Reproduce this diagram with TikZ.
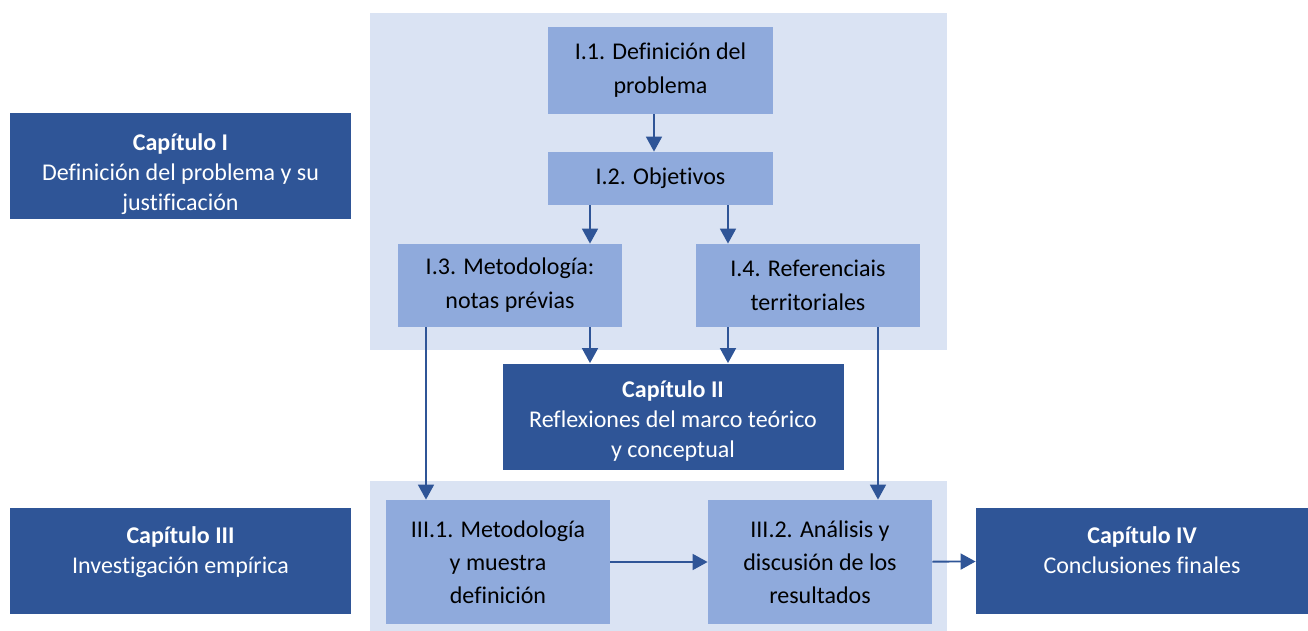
\documentclass[tikz,border=0pt]{standalone}
\usepackage{fontspec}
\setmainfont{Carlito}[Ligatures=NoCommon]
\usetikzlibrary{arrows.meta}

\definecolor{chapblue}{RGB}{47,85,151}
\definecolor{stepblue}{RGB}{143,170,220}
\definecolor{panelblue}{RGB}{218,227,243}

% extra room above the first line of a chapter box
\newcommand{\toproom}[1]{\rule{0pt}{\dimexpr 9pt+#1\relax}}

\begin{document}
\begin{tikzpicture}[
    x=0.5pt,y=-0.5pt,
    chapter/.style={rectangle,fill=chapblue,text=white,inner sep=0pt,align=center,
        font=\fontsize{12}{15}\selectfont,minimum width=170.5pt,minimum height=53pt},
    part/.style={rectangle,fill=stepblue,text=black,inner sep=0pt,align=center,
        font=\fontsize{12}{17}\selectfont,minimum width=112pt},
    panel/.style={fill=panelblue},
    arrow/.style={draw=chapblue,line width=0.9pt,-{Triangle[length=7.5pt,width=8pt]}}
]
    \useasboundingbox (0,0) rectangle (1308,631);

    % light panels behind chapters I and III
    \fill[panel] (370,13) rectangle (947,350);
    \fill[panel] (370,481) rectangle (947,631);

    % chapters
    \node[chapter] (capI) at (180.5,166.5) {\toproom{7pt}\textbf{Capítulo I}\\Definición del problema y su\\justificación};
    \node[chapter] (capII) at (673,416.5) {\toproom{4pt}\textbf{Capítulo II}\\Reflexiones del marco teórico\\y conceptual};
    \node[chapter] (capIII) at (180.5,561) {\toproom{3pt}\textbf{Capítulo III}\\Investigación empírica\\\mbox{}};
    \node[chapter,minimum width=166pt] (capIV) at (1142,561) {\toproom{3pt}\textbf{Capítulo IV}\\Conclusiones finales\\\mbox{}};

    % sections of chapter I
    \node[part,minimum width=112.5pt,minimum height=43.5pt] (i1) at (660.5,70.5) {I.1. Definición del\\problema};
    \node[part,minimum width=112.5pt,minimum height=26.5pt] (i2) at (660.5,178.5) {I.2. Objetivos};
    \node[part,minimum height=41.5pt] (i3) at (510,285.5) {I.3. Metodología:\\notas prévias};
    \node[part,minimum height=41.5pt] (i4) at (808,285.5) {I.4. Referenciais\\territoriales};

    % sections of chapter III
    \node[part,minimum height=62pt,font=\fontsize{12}{16.5}\selectfont] (iii1) at (498,562) {III.1. Metodología\\y muestra\\definición};
    \node[part,minimum height=62pt,font=\fontsize{12}{16.5}\selectfont] (iii2) at (820,562) {III.2. Análisis y\\discusión de los\\resultados};

    \draw[arrow] ([xshift=-3.25pt]i1.south) -- ([xshift=-3.25pt]i2.north);
    \draw[arrow] ([xshift=40pt]i3.north |- i2.south) -- ([xshift=40pt]i3.north);
    \draw[arrow] ([xshift=-40pt]i4.north |- i2.south) -- ([xshift=-40pt]i4.north);
    \draw[arrow] ([xshift=40pt]i3.south) -- ([xshift=40pt]i3.south |- capII.north);
    \draw[arrow] ([xshift=-40pt]i4.south) -- ([xshift=-40pt]i4.south |- capII.north);
    \draw[arrow] ([xshift=-42pt]i3.south) -- ([xshift=-42pt]i3.south |- iii1.north);
    \draw[arrow] ([xshift=35pt]i4.south) -- ([xshift=35pt]i4.south |- iii2.north);
    \draw[arrow] (iii1) -- (iii2);
    \draw[arrow] (iii2) -- (capIV);
\end{tikzpicture}
\end{document}
